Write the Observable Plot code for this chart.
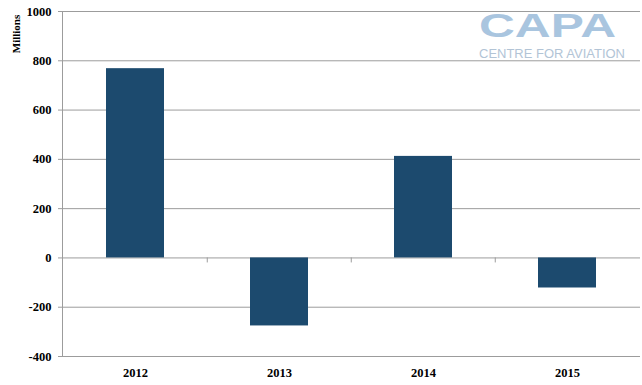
<!DOCTYPE html>
<html>
<head>
<meta charset="utf-8">
<script src="https://cdn.jsdelivr.net/npm/d3@7"></script>
<script src="https://cdn.jsdelivr.net/npm/@observablehq/plot@0.6"></script>
<style>
  html, body { margin: 0; padding: 0; background: #fff; }
  #chart { width: 642px; height: 385px; }
</style>
</head>
<body>
<div id="chart"></div>
<script>
const years = ["2012", "2013", "2014", "2015"];
const values = [768, -276, 412, -122];
const yTicks = [-400, -200, 0, 200, 400, 600, 800, 1000];
const yLabel = "Millions";
const logoMain = "CAPA";
const logoSub = "CENTRE FOR AVIATION";

const data = years.map((y, i) => ({year: y, value: values[i]}));

const serif = "'Liberation Serif', 'Times New Roman', serif";
const grid = "#9c9c9c";

const chart = Plot.plot({
  width: 642,
  height: 385,
  marginLeft: 62,
  marginRight: 2,
  marginTop: 11,
  marginBottom: 29,
  style: {fontFamily: serif, fontSize: "12.5px", fontWeight: "bold", color: "#000", background: "#fff"},
  x: {type: "band", domain: years, paddingInner: 0.6, paddingOuter: 0.3, label: null},
  y: {domain: [-400, 1000], ticks: yTicks, label: null},
  marks: [
    Plot.gridY(yTicks, {stroke: grid, strokeOpacity: 1, strokeWidth: 1}),
    Plot.axisY(yTicks, {tickSize: 4, tickPadding: 7, stroke: grid, label: null, fontWeight: "bold", tickFormat: d => String(d)}),
    Plot.axisX({tickSize: 0, tickPadding: 12, label: null, fontWeight: "bold"}),
    Plot.ruleX(years.slice(1), {x: d => d, y1: 0, y2: 0, insetBottom: -5, dx: -72.25, stroke: grid}),
    Plot.barY(data, {x: "year", y: "value", fill: "#1c4a6e"}),
    Plot.frame({anchor: "left", stroke: grid})
  ]
});

const svg = d3.select(chart);
svg.append("text")
  .attr("transform", "translate(20,34) rotate(-90)")
  .attr("text-anchor", "middle")
  .attr("font-family", serif)
  .attr("font-weight", "bold")
  .attr("font-size", 11)
  .attr("fill", "#000")
  .text(yLabel);

svg.append("text")
  .attr("x", 479).attr("y", 37)
  .attr("text-anchor", "start")
  .attr("font-family", "'Liberation Sans', Arial, sans-serif")
  .attr("font-weight", "bold")
  .attr("font-size", 33)
  .attr("fill", "#a9c5df")
  .attr("textLength", 137)
  .attr("lengthAdjust", "spacingAndGlyphs")
  .text(logoMain);

svg.append("text")
  .attr("x", 479).attr("y", 58)
  .attr("text-anchor", "start")
  .attr("font-family", "'Liberation Sans', Arial, sans-serif")
  .attr("font-weight", "normal")
  .attr("font-size", 12.5)
  .attr("fill", "#b2c4d6")
  .attr("textLength", 146)
  .attr("lengthAdjust", "spacingAndGlyphs")
  .text(logoSub);

document.getElementById("chart").appendChild(chart);
</script>
</body>
</html>
